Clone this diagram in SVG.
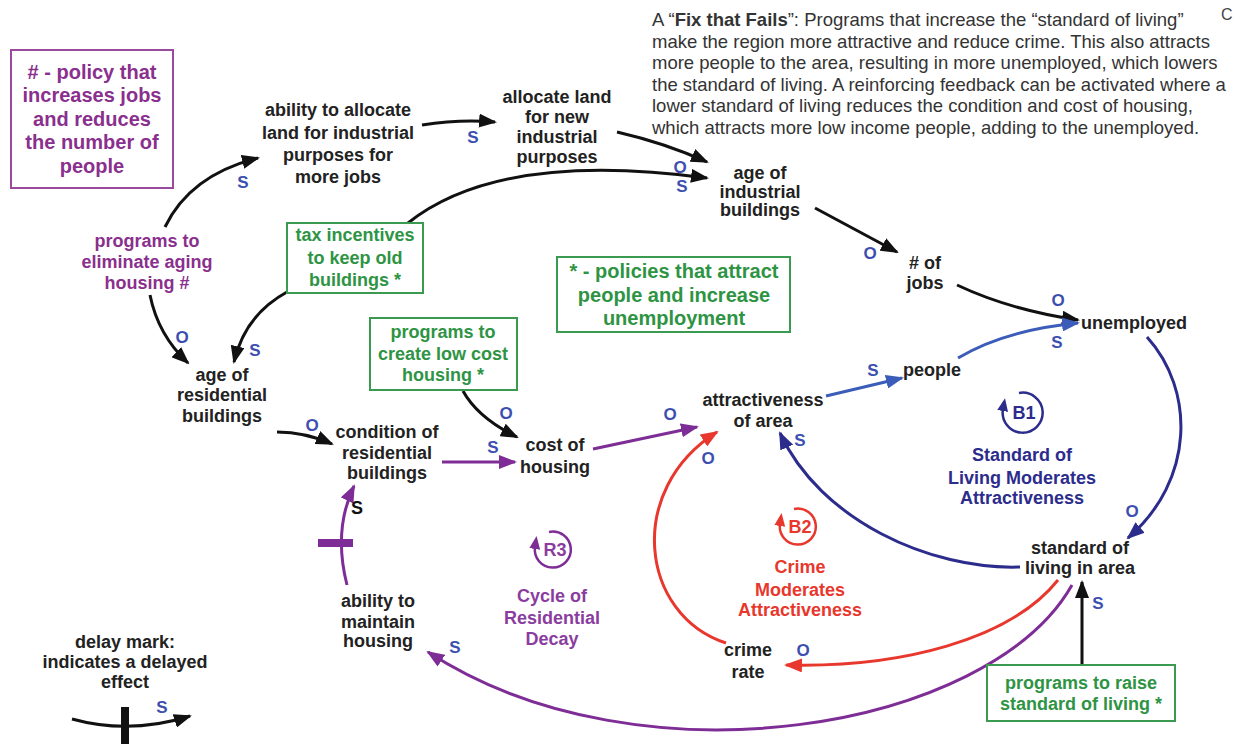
<svg xmlns="http://www.w3.org/2000/svg" width="1234" height="744" viewBox="0 0 1234 744">
  <style>
    text { font-family: "Liberation Sans", Arial, sans-serif; }
    .node { font-size: 18px; font-weight: bold; fill: #222; text-anchor: middle; }
    .para { font-size: 18.5px; fill: #333; }
    .pol { font-size: 18px; font-weight: bold; fill: #2e9444; text-anchor: middle; }
    .big { font-size: 20px; }
    .purp { fill: #8a2f8e; }
    .lbl { font-size: 17px; font-weight: bold; fill: #3c4fb0; text-anchor: middle; }
    .loopB1 { font-size: 18px; font-weight: bold; fill: #2c2c8c; text-anchor: middle; }
    .loopB2 { font-size: 18px; font-weight: bold; fill: #e8372c; text-anchor: middle; }
    .loopR3 { font-size: 18px; font-weight: bold; fill: #8a3d9e; text-anchor: middle; }
    .c { fill: none; stroke-width: 3; }
    .k { stroke: #111; marker-end: url(#ahK); }
    .n { stroke: #2c2c8c; marker-end: url(#ahN); }
    .b { stroke: #3b5cb8; marker-end: url(#ahB); }
    .p { stroke: #7e2d96; marker-end: url(#ahP); }
    .r { stroke: #e8372c; marker-end: url(#ahR); }
    .box { fill: none; stroke: #3a9a4f; stroke-width: 2; }
    .loop { fill: none; stroke-width: 2.5; }
  </style>
  <defs>
    <marker id="ahK" markerUnits="userSpaceOnUse" markerWidth="18" markerHeight="14" refX="16" refY="7" orient="auto"><path d="M0,0 L18,7 L0,14 Z" fill="#111"/></marker>
    <marker id="ahN" markerUnits="userSpaceOnUse" markerWidth="18" markerHeight="14" refX="16" refY="7" orient="auto"><path d="M0,0 L18,7 L0,14 Z" fill="#2c2c8c"/></marker>
    <marker id="ahB" markerUnits="userSpaceOnUse" markerWidth="18" markerHeight="14" refX="16" refY="7" orient="auto"><path d="M0,0 L18,7 L0,14 Z" fill="#3b5cb8"/></marker>
    <marker id="ahP" markerUnits="userSpaceOnUse" markerWidth="18" markerHeight="14" refX="16" refY="7" orient="auto"><path d="M0,0 L18,7 L0,14 Z" fill="#7e2d96"/></marker>
    <marker id="ahR" markerUnits="userSpaceOnUse" markerWidth="18" markerHeight="14" refX="16" refY="7" orient="auto"><path d="M0,0 L18,7 L0,14 Z" fill="#e8372c"/></marker>
    <marker id="lhN" markerUnits="userSpaceOnUse" markerWidth="13" markerHeight="11" refX="2" refY="5.5" orient="auto"><path d="M0,0 L13,5.5 L0,11 Z" fill="#2c2c8c"/></marker>
    <marker id="lhR" markerUnits="userSpaceOnUse" markerWidth="13" markerHeight="11" refX="2" refY="5.5" orient="auto"><path d="M0,0 L13,5.5 L0,11 Z" fill="#e8372c"/></marker>
    <marker id="lhP" markerUnits="userSpaceOnUse" markerWidth="13" markerHeight="11" refX="2" refY="5.5" orient="auto"><path d="M0,0 L13,5.5 L0,11 Z" fill="#7e2d96"/></marker>
  </defs>
  <rect width="1234" height="744" fill="#fff"/>

  <!-- explanatory note -->
  <g id="note">
    <text class="para" x="652" y="26">A “<tspan font-weight="bold">Fix that Fails</tspan>”: Programs that increase the “standard of living”</text>
    <text class="para" x="652" y="48">make the region more attractive and reduce crime. This also attracts</text>
    <text class="para" x="652" y="69">more people to the area, resulting in more unemployed, which lowers</text>
    <text class="para" x="652" y="91">the standard of living. A reinforcing feedback can be activated where a</text>
    <text class="para" x="652" y="112">lower standard of living reduces the condition and cost of housing,</text>
    <text class="para" x="652" y="134">which attracts more low income people, adding to the unemployed.</text>
    <text x="1221" y="20" font-size="16" fill="#444">C</text>
  </g>

  <!-- connectors -->
  <g id="connectors">
    <path class="c k" d="M165,227 Q190,175 258,158"/>
    <path class="c k" d="M422,125 Q460,119 495,122"/>
    <path class="c k" d="M617,132 Q665,143 707,162"/>
    <path class="c k" d="M408,223 Q500,150 707,178"/>
    <path class="c k" d="M815,208 L897,252"/>
    <path class="c k" d="M957,285 Q1010,310 1078,320"/>
    <path class="c b" d="M958,358 Q1005,330 1078,323"/>
    <path class="c b" d="M826,396 L902,378"/>
    <path class="c n" d="M1147,337 C1195,390 1195,480 1128,538"/>
    <path class="c n" d="M1020,567 C930,570 820,520 780,433"/>
    <path class="c r" d="M726,643 C640,615 625,490 717,432"/>
    <path class="c r" d="M1058,580 C1010,640 900,668 786,665"/>
    <path class="c p" d="M1072,585 C990,730 640,790 428,652"/>
    <path class="c p" d="M347,585 Q333,530 354,486"/>
    <line x1="318" y1="543" x2="353" y2="543" stroke="#7e2d96" stroke-width="8"/>
    <path class="c p" d="M442,462 L515,462"/>
    <path class="c k" d="M277,432 Q305,432 332,444"/>
    <path class="c p" d="M593,449 Q650,437 697,427"/>
    <path class="c k" d="M463,391 Q478,418 517,437"/>
    <path class="c k" d="M287,292 Q245,315 234,362"/>
    <path class="c k" d="M150,295 Q158,335 188,363"/>
    <path class="c k" stroke-width="4" d="M1082,665 L1082,582"/>
    <!-- legend arrow with delay bar -->
    <path class="c k" d="M72,719 Q130,735 190,716"/>
    <line x1="125" y1="707" x2="125" y2="744" stroke="#111" stroke-width="8"/>
  </g>

  <!-- polarity labels -->
  <g id="polarity">
    <text class="lbl" x="243" y="188">S</text>
    <text class="lbl" x="473" y="143">S</text>
    <text class="lbl" x="680" y="173">O</text>
    <text class="lbl" x="682" y="192">S</text>
    <text class="lbl" x="870" y="259">O</text>
    <text class="lbl" x="1058" y="306">O</text>
    <text class="lbl" x="1057" y="348">S</text>
    <text class="lbl" x="873" y="376">S</text>
    <text class="lbl" x="1132" y="517">O</text>
    <text class="lbl" x="1098" y="609">S</text>
    <text class="lbl" x="800" y="446">S</text>
    <text class="lbl" x="708" y="464">O</text>
    <text class="lbl" x="670" y="420">O</text>
    <text class="lbl" x="803" y="656">O</text>
    <text class="lbl" x="455" y="653">S</text>
    <text x="357" y="514" font-family="Liberation Serif, serif" font-weight="bold" font-size="18" fill="#111" text-anchor="middle">S</text>
    <text class="lbl" x="312" y="431">O</text>
    <text class="lbl" x="506" y="419">O</text>
    <text class="lbl" x="493" y="453">S</text>
    <text class="lbl" x="182" y="343">O</text>
    <text class="lbl" x="255" y="356">S</text>
    <text class="lbl" x="162" y="713">S</text>
  </g>

  <!-- policy boxes -->
  <g id="policy-jobs">
    <rect x="11" y="50" width="162" height="138" fill="none" stroke="#9a4a9c" stroke-width="2"/>
    <text class="pol big purp" x="92"><tspan x="92" y="79"># - policy that</tspan><tspan x="92" y="102">increases jobs</tspan><tspan x="92" y="126">and reduces</tspan><tspan x="92" y="149">the number of</tspan><tspan x="92" y="173">people</tspan></text>
  </g>
  <g id="policy-people">
    <rect class="box" x="557" y="257" width="233" height="75"/>
    <text class="pol big"><tspan x="674" y="278">* - policies that attract</tspan><tspan x="674" y="302">people and increase</tspan><tspan x="674" y="325">unemployment</tspan></text>
  </g>
  <g id="tax-incentives">
    <rect class="box" x="287" y="223" width="136" height="70"/>
    <text class="pol"><tspan x="355" y="241">tax incentives</tspan><tspan x="355" y="264">to keep old</tspan><tspan x="355" y="286">buildings *</tspan></text>
  </g>
  <g id="low-cost-housing">
    <rect class="box" x="370" y="318" width="147" height="72"/>
    <text class="pol"><tspan x="443" y="338">programs to</tspan><tspan x="443" y="360">create low cost</tspan><tspan x="443" y="381">housing *</tspan></text>
  </g>
  <g id="raise-standard">
    <rect class="box" x="987" y="665" width="188" height="56"/>
    <text class="pol"><tspan x="1081" y="689">programs to raise</tspan><tspan x="1081" y="710">standard of living *</tspan></text>
  </g>
  <g id="eliminate-aging">
    <text class="node purp"><tspan x="147" y="247">programs to</tspan><tspan x="147" y="268">eliminate aging</tspan><tspan x="147" y="289">housing #</tspan></text>
  </g>

  <!-- variables -->
  <g id="ability-allocate"><text class="node"><tspan x="338" y="116">ability to allocate</tspan><tspan x="338" y="139">land for industrial</tspan><tspan x="338" y="161">purposes for</tspan><tspan x="338" y="183">more jobs</tspan></text></g>
  <g id="allocate-land"><text class="node"><tspan x="557" y="103">allocate land</tspan><tspan x="557" y="123">for new</tspan><tspan x="557" y="143">industrial</tspan><tspan x="557" y="163">purposes</tspan></text></g>
  <g id="age-industrial"><text class="node"><tspan x="760" y="179">age of</tspan><tspan x="760" y="198">industrial</tspan><tspan x="760" y="216">buildings</tspan></text></g>
  <g id="jobs"><text class="node"><tspan x="925" y="269"># of</tspan><tspan x="925" y="289">jobs</tspan></text></g>
  <g id="unemployed"><text class="node" style="text-anchor:start" x="1081" y="329">unemployed</text></g>
  <g id="people"><text class="node" style="text-anchor:start" x="903" y="376">people</text></g>
  <g id="attractiveness"><text class="node"><tspan x="763" y="406">attractiveness</tspan><tspan x="763" y="427">of area</tspan></text></g>
  <g id="standard-of-living"><text class="node"><tspan x="1080" y="554">standard of</tspan><tspan x="1080" y="574">living in area</tspan></text></g>
  <g id="crime-rate"><text class="node"><tspan x="748" y="656">crime</tspan><tspan x="748" y="678">rate</tspan></text></g>
  <g id="ability-maintain"><text class="node"><tspan x="378" y="607">ability to</tspan><tspan x="378" y="628">maintain</tspan><tspan x="378" y="647">housing</tspan></text></g>
  <g id="condition-residential"><text class="node"><tspan x="387" y="438">condition of</tspan><tspan x="387" y="459">residential</tspan><tspan x="387" y="479">buildings</tspan></text></g>
  <g id="cost-of-housing"><text class="node"><tspan x="555" y="451">cost of</tspan><tspan x="555" y="473">housing</tspan></text></g>
  <g id="age-residential"><text class="node"><tspan x="222" y="381">age of</tspan><tspan x="222" y="401">residential</tspan><tspan x="222" y="422">buildings</tspan></text></g>

  <!-- loop markers: arc runs clockwise from the top and ends on the left, heading up -->
  <g id="loop-B1">
    <path class="loop" stroke="#2c2c8c" d="M1019,393 A20,20 0 1 1 1003,409" marker-end="url(#lhN)"/>
    <text class="loopB1" x="1024" y="419">B1</text>
    <text class="loopB1"><tspan x="1022" y="461">Standard of</tspan><tspan x="1022" y="484">Living Moderates</tspan><tspan x="1022" y="504">Attractiveness</tspan></text>
  </g>
  <g id="loop-B2">
    <path class="loop" stroke="#e8372c" d="M794,509 A18,18 0 1 1 780,524" marker-end="url(#lhR)"/>
    <text class="loopB2" x="800" y="533">B2</text>
    <text class="loopB2"><tspan x="800" y="573">Crime</tspan><tspan x="800" y="596">Moderates</tspan><tspan x="800" y="616">Attractiveness</tspan></text>
  </g>
  <g id="loop-R3">
    <path class="loop" stroke="#7e2d96" d="M549,532 A18,18 0 1 1 535,547" marker-end="url(#lhP)"/>
    <text class="loopR3" x="555" y="556">R3</text>
    <text class="loopR3"><tspan x="552" y="602">Cycle of</tspan><tspan x="552" y="624">Residential</tspan><tspan x="552" y="645">Decay</tspan></text>
  </g>

  <!-- legend -->
  <g id="legend">
    <text class="node"><tspan x="125" y="648">delay mark:</tspan><tspan x="125" y="668">indicates a delayed</tspan><tspan x="125" y="688">effect</tspan></text>
  </g>
</svg>
